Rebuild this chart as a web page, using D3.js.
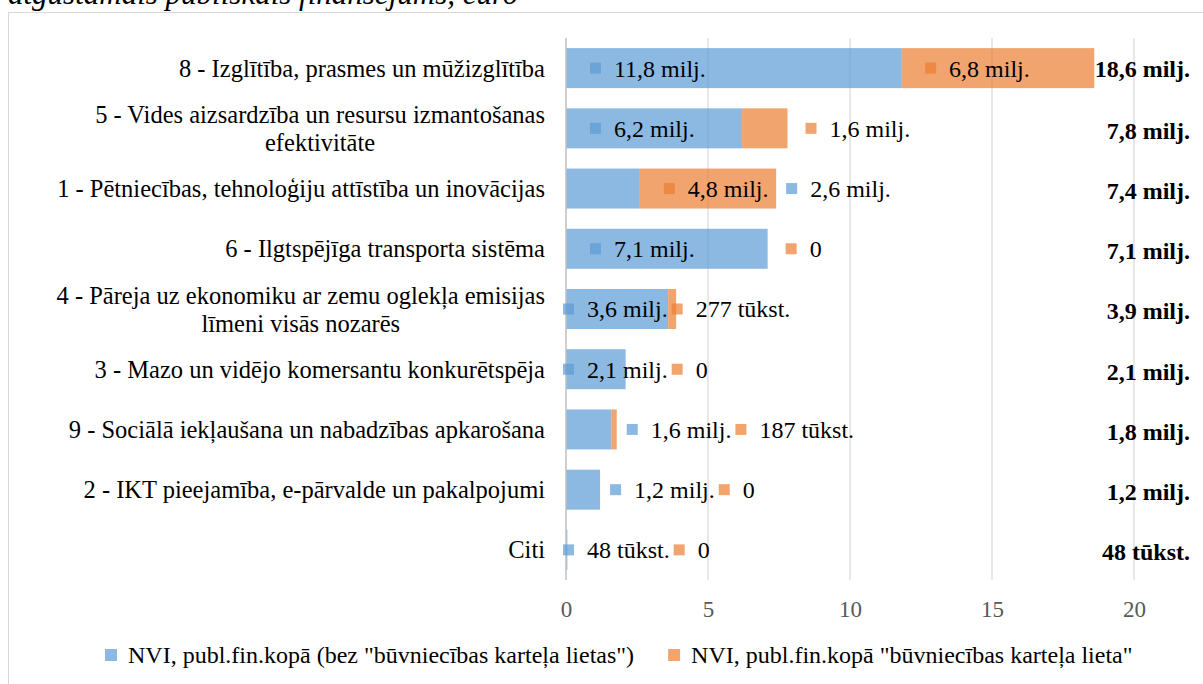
<!DOCTYPE html>
<html>
<head>
<meta charset="utf-8">
<script src="https://cdn.jsdelivr.net/npm/d3@7.9.0/dist/d3.min.js"></script>
<style>
  html, body { margin: 0; padding: 0; background: #fff; }
  svg { display: block; font-family: "Liberation Serif", "DejaVu Serif", serif; }
</style>
</head>
<body>
<svg id="chart" width="1203" height="684"></svg>
<script>
// data (million euro)
const categories = [
  '8 - Izglītība, prasmes un mūžizglītība',
  '5 - Vides aizsardzība un resursu izmantošanas\nefektivitāte',
  '1 - Pētniecības, tehnoloģiju attīstība un inovācijas',
  '6 - Ilgtspējīga transporta sistēma',
  '4 - Pāreja uz ekonomiku ar zemu oglekļa emisijas\nlīmeni visās nozarēs',
  '3 - Mazo un vidējo komersantu konkurētspēja',
  '9 - Sociālā iekļaušana un nabadzības apkarošana',
  '2 - IKT pieejamība, e-pārvalde un pakalpojumi',
  'Citi'
];
const blueValues = [11.8, 6.2, 2.6, 7.1, 3.6, 2.1, 1.6, 1.2, 0.048];
const orangeValues = [6.8, 1.6, 4.8, 0, 0.277, 0, 0.187, 0, 0];
const seriesNames = [
  'NVI, publ.fin.kopā (bez "būvniecības karteļa lietas")',
  'NVI, publ.fin.kopā "būvniecības karteļa lieta"'
];
const xTicks = [0, 5, 10, 15, 20];
const titleText = 'atgūstamais publiskais finansējums, euro';

// how each data label sits next to its bar (as placed in the original)
const blueLabelMode = ['inside', 'inside', 'afterBar', 'inside', 'base', 'base', 'afterBar', 'afterBar', 'base'];
const orangeLabelMode = ['inside', 'afterBar', 'inside', 'afterBar', 'afterLabel', 'afterLabel', 'afterLabel', 'afterLabel', 'afterLabel'];

const blueColor = '#5B9BD5';
const orangeColor = '#ED7D31';
const fillAlpha = 0.7;
const serif = '"Liberation Serif", "DejaVu Serif", serif';

const svg = d3.select('#chart');

const fmtDec = v => d3.format('.1f')(v).replace('.', ',');
const fmtValue = v => {
  if (v === 0) return '0';
  if (v < 1) return `${Math.round(v * 1000)} tūkst.`;
  return `${fmtDec(v)} milj.`;
};

const rows = categories.map((c, i) => ({ cat: c, blue: blueValues[i], orange: orangeValues[i] }));
const stacked = d3.stack().keys(['blue', 'orange'])(rows);

const x = d3.scaleLinear().domain([0, 20]).range([566, 1134]);
const y = d3.scaleBand().domain(categories).range([38, 580]).paddingInner(0.336).paddingOuter(0.168);

// title, cut at the top edge like in the source
svg.append('text')
  .attr('x', 8).attr('y', 4)
  .attr('font-size', 31).attr('font-style', 'italic')
  .attr('fill', '#000')
  .text(titleText);

// chart frame
svg.append('rect')
  .attr('x', 8.5).attr('y', 12.5)
  .attr('width', 1300).attr('height', 800)
  .attr('fill', 'none').attr('stroke', '#d9d9d9');

// gridlines
svg.append('g').selectAll('line')
  .data(xTicks.filter(t => t !== 0))
  .join('line')
  .attr('x1', d => x(d)).attr('x2', d => x(d))
  .attr('y1', 38).attr('y2', 580)
  .attr('stroke', '#d9d9d9').attr('stroke-width', 1.2);

// bars
const colors = { blue: blueColor, orange: orangeColor };
stacked.forEach(layer => {
  svg.append('g').selectAll('rect')
    .data(layer)
    .join('rect')
    .attr('x', d => x(d[0]))
    .attr('y', d => y(d.data.cat))
    .attr('width', d => x(d[1]) - x(d[0]))
    .attr('height', y.bandwidth())
    .attr('fill', colors[layer.key])
    .attr('fill-opacity', fillAlpha);
});

// axis line at zero
svg.append('line')
  .attr('x1', x(0)).attr('x2', x(0))
  .attr('y1', 38).attr('y2', 580)
  .attr('stroke', '#bfbfbf').attr('stroke-width', 1.5);

// tick labels
const xAxis = d3.axisBottom(x).tickValues(xTicks).tickSize(0).tickPadding(0);
const axisG = svg.append('g').attr('transform', 'translate(0,601)').call(xAxis);
axisG.select('.domain').remove();
axisG.selectAll('text')
  .attr('font-family', serif)
  .attr('font-size', 23)
  .attr('fill', '#595959')
  .attr('dy', '0.71em');

// category labels (multi-line ones are centred on their widest line)
categories.forEach(c => {
  const lines = c.split('\n');
  const cy = y(c) + y.bandwidth() / 2;
  const lh = 28;
  const g = svg.append('g');
  const texts = lines.map((ln, k) => g.append('text')
    .attr('y', cy + (k - (lines.length - 1) / 2) * lh)
    .attr('dy', '0.35em')
    .attr('font-size', 24.5)
    .text(ln));
  const maxW = d3.max(texts, t => t.node().getComputedTextLength());
  texts.forEach(t => t.attr('x', 545 - maxW / 2).attr('text-anchor', 'middle'));
});

// data labels with legend keys
const labelG = svg.append('g');
const drawLabel = (mx, cy, color, txt) => {
  labelG.append('rect')
    .attr('x', mx).attr('y', cy - 5.5)
    .attr('width', 11).attr('height', 11)
    .attr('fill', color).attr('fill-opacity', fillAlpha);
  const t = labelG.append('text')
    .attr('x', mx + 24).attr('y', cy)
    .attr('dy', '0.35em')
    .attr('font-size', 24)
    .text(txt);
  return mx + 24 + t.node().getComputedTextLength();
};

rows.forEach((r, i) => {
  const cy = y(r.cat) + y.bandwidth() / 2;
  const barEnd = x(r.blue + r.orange);
  let mx;
  if (blueLabelMode[i] === 'inside') mx = x(0) + 24;
  else if (blueLabelMode[i] === 'base') mx = x(0) - 3;
  else mx = barEnd + 10;
  const blueEnd = drawLabel(mx, cy, blueColor, fmtValue(r.blue));

  if (orangeLabelMode[i] === 'inside') mx = x(r.blue) + 24;
  else if (orangeLabelMode[i] === 'afterBar') mx = barEnd + 18;
  else mx = blueEnd + 4;
  drawLabel(mx, cy, orangeColor, fmtValue(r.orange));

  // bold total at the right
  svg.append('text')
    .attr('x', 1190).attr('y', cy + (i === 0 ? 0 : 2))
    .attr('dy', '0.35em')
    .attr('text-anchor', 'end')
    .attr('font-size', 24).attr('font-weight', 'bold')
    .text(fmtValue(r.blue + r.orange));
});

// legend
const legendY = 655;
let lx = 105;
[blueColor, orangeColor].forEach((col, i) => {
  svg.append('rect')
    .attr('x', lx).attr('y', legendY - 6)
    .attr('width', 12).attr('height', 12)
    .attr('fill', col).attr('fill-opacity', fillAlpha);
  const t = svg.append('text')
    .attr('x', lx + 23).attr('y', legendY)
    .attr('dy', '0.35em')
    .attr('font-size', 24)
    .text(seriesNames[i]);
  lx = lx + 23 + t.node().getComputedTextLength() + 34;
});
</script>
</body>
</html>
